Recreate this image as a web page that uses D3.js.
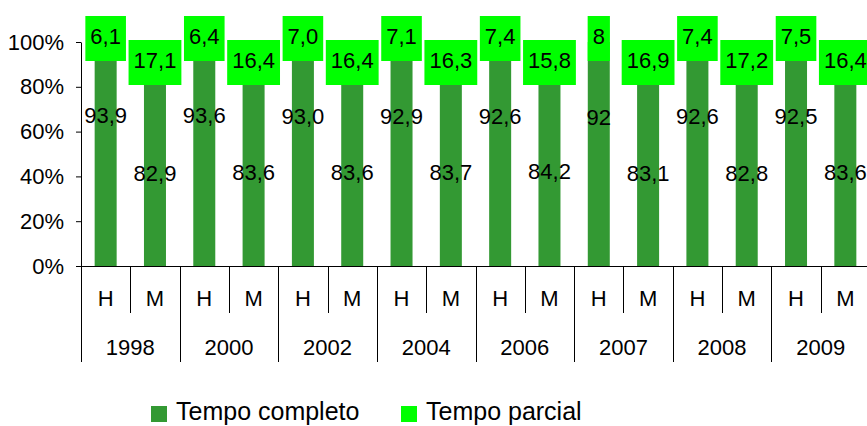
<!DOCTYPE html>
<html>
<head>
    <meta charset="utf-8" />
    <title>Tempo completo / Tempo parcial</title>
    <style>
        body { margin: 0; background: #fff; }
        #chart { width: 867px; height: 426px; }
        text { font-family: "Liberation Sans", Arial, sans-serif; fill: #000; }
    </style>
</head>
<body>
    <div id="chart"></div>
    <script src="https://cdn.jsdelivr.net/npm/d3@7"></script>
    <script>
        // values as printed on the chart (comma decimals)
        var years = ["1998", "2000", "2002", "2004", "2006", "2007", "2008", "2009"];
        var sexes = ["H", "M"];
        var completoH = ["93,9", "93,6", "93,0", "92,9", "92,6", "92", "92,6", "92,5"];
        var completoM = ["82,9", "83,6", "83,6", "83,7", "84,2", "83,1", "82,8", "83,6"];
        var parcialH = ["6,1", "6,4", "7,0", "7,1", "7,4", "8", "7,4", "7,5"];
        var parcialM = ["17,1", "16,4", "16,4", "16,3", "15,8", "16,9", "17,2", "16,4"];
        var seriesNames = ["Tempo completo", "Tempo parcial"];
        var yTicks = [0, 0.2, 0.4, 0.6, 0.8, 1];

        var num = s => +s.replace(",", ".");

        var rows = [];
        years.forEach(function (yr, i) {
            rows.push({ year: yr, sex: "H", full: num(completoH[i]), part: num(parcialH[i]), fullLabel: completoH[i], partLabel: parcialH[i] });
            rows.push({ year: yr, sex: "M", full: num(completoM[i]), part: num(parcialM[i]), fullLabel: completoM[i], partLabel: parcialM[i] });
        });

        var width = 867, height = 426;
        var plotL = 81, plotR = 870, plotT = 42, plotB = 266;
        var darkGreen = "#339933", lightGreen = "#00ff00";

        var svg = d3.select("#chart").append("svg")
            .attr("width", width)
            .attr("height", height);

        var x0 = d3.scaleBand().domain(years).range([plotL, plotR]);
        var x1 = d3.scaleBand().domain(sexes).range([0, x0.bandwidth()]);
        var barW = 22;
        var y = d3.scaleLinear().domain([0, 100]).range([plotB, plotT]);
        var yPct = d3.scaleLinear().domain([0, 1]).range([plotB, plotT]);

        var barX = d => x0(d.year) + x1(d.sex) + x1.bandwidth() / 2 - barW / 2;

        // bars
        var bars = svg.append("g");
        bars.selectAll("rect.full")
            .data(rows)
            .join("rect")
            .attr("class", "full")
            .attr("x", barX)
            .attr("width", barW)
            .attr("y", d => y(d.full))
            .attr("height", d => y(0) - y(d.full))
            .attr("fill", darkGreen);
        bars.selectAll("rect.part")
            .data(rows)
            .join("rect")
            .attr("class", "part")
            .attr("x", barX)
            .attr("width", barW)
            .attr("y", d => y(d.full + d.part))
            .attr("height", d => y(d.full) - y(d.full + d.part))
            .attr("fill", lightGreen);

        // y axis
        var yAxis = svg.append("g")
            .attr("transform", `translate(${plotL},0)`)
            .call(d3.axisLeft(yPct).tickValues(yTicks).tickFormat(d3.format(".0%")).tickSize(5).tickSizeOuter(0).tickPadding(12));
        yAxis.select(".domain").attr("stroke", "#000");
        yAxis.selectAll(".tick line").attr("stroke", "#000");
        yAxis.selectAll(".tick text")
            .attr("font-size", 22)
            .attr("font-family", "Liberation Sans, Arial, sans-serif")
            .attr("fill", "#000");

        // category axis with two levels
        var xa = svg.append("g").attr("stroke", "#000").attr("stroke-width", 1);
        xa.append("line")
            .attr("x1", plotL - 5).attr("x2", plotR)
            .attr("y1", plotB + 0.5).attr("y2", plotB + 0.5);
        var edges = years.map(d => x0(d)).concat([plotR]);
        xa.selectAll("line.yr")
            .data(edges)
            .join("line")
            .attr("class", "yr")
            .attr("x1", d => Math.round(d) + 0.5).attr("x2", d => Math.round(d) + 0.5)
            .attr("y1", plotB).attr("y2", 362);
        xa.selectAll("line.sx")
            .data(years)
            .join("line")
            .attr("class", "sx")
            .attr("x1", d => Math.round(x0(d) + x1("M")) + 0.5).attr("x2", d => Math.round(x0(d) + x1("M")) + 0.5)
            .attr("y1", plotB).attr("y2", 313);

        var xl = svg.append("g").attr("font-size", 22).attr("text-anchor", "middle");
        xl.selectAll("text.sx")
            .data(rows)
            .join("text")
            .attr("class", "sx")
            .attr("x", d => x0(d.year) + x1(d.sex) + x1.bandwidth() / 2)
            .attr("y", 298)
            .attr("dy", "0.35em")
            .text(d => d.sex);
        xl.selectAll("text.yr")
            .data(years)
            .join("text")
            .attr("class", "yr")
            .attr("x", d => x0(d) + x0.bandwidth() / 2)
            .attr("y", 347)
            .attr("dy", "0.35em")
            .text(d => d);

        // labels for the full-time segments
        svg.append("g")
            .attr("font-size", 22)
            .attr("text-anchor", "middle")
            .selectAll("text")
            .data(rows)
            .join("text")
            .attr("x", d => x0(d.year) + x1(d.sex) + x1.bandwidth() / 2)
            .attr("y", d => d.sex == "H" ? y(d.full / 2) - 46 : y(d.full / 2))
            .attr("dy", "0.35em")
            .text(d => d.fullLabel);

        // boxed labels for the part-time segments
        var boxes = svg.append("g")
            .selectAll("g")
            .data(rows)
            .join("g")
            .attr("transform", function (d) {
                var cx = x0(d.year) + x1(d.sex) + x1.bandwidth() / 2;
                var ty = d.sex == "H" ? y(100) - 26 : y(100) - 2;
                return `translate(${cx},${ty})`;
            });
        boxes.append("rect").attr("fill", lightGreen);
        boxes.append("text")
            .attr("font-size", 22)
            .attr("text-anchor", "middle")
            .attr("y", 20)
            .attr("dy", "0.35em")
            .text(d => d.partLabel);
        boxes.each(function () {
            var g = d3.select(this);
            var w = g.select("text").node().getComputedTextLength() + 10;
            g.select("rect").attr("x", -w / 2).attr("width", w).attr("y", 0).attr("height", 45);
        });

        // legend
        var legend = svg.append("g")
            .selectAll("g")
            .data(seriesNames)
            .join("g")
            .attr("transform", (d, i) => `translate(${i == 0 ? 151 : 401},406)`);
        legend.append("rect")
            .attr("width", 16).attr("height", 16)
            .attr("fill", (d, i) => i == 0 ? darkGreen : lightGreen);
        legend.append("text")
            .attr("x", 25)
            .attr("y", 14)
            .attr("font-size", 25)
            .text(d => d);
    </script>
</body>
</html>
